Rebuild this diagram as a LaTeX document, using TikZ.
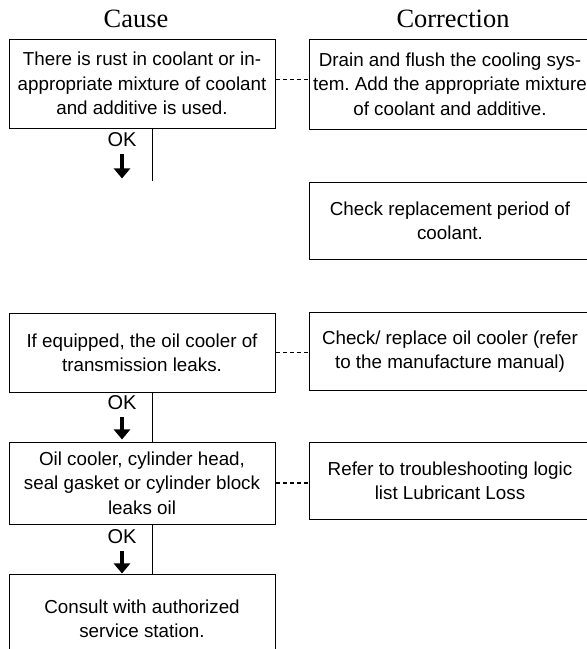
\documentclass[tikz,border=0pt]{standalone}
\usepackage{fontspec}
\setmainfont{Liberation Sans}
\newfontfamily\headfont{Liberation Serif}
\usetikzlibrary{arrows.meta}
\frenchspacing
\tikzset{
  causebox/.style={draw, line width=0.5pt, align=center, inner sep=0pt, minimum width=133pt, font=\fontsize{9.4}{12.2}\selectfont},
  fixbox/.style={causebox, minimum width=141pt},
  heading/.style={anchor=base, inner sep=0pt, font=\headfont\fontsize{13.2}{15}\selectfont},
  oklabel/.style={inner sep=0pt, font=\fontsize{10}{11}\selectfont},
  okarrow/.style={line width=1.6pt, -{Triangle[width=8pt,length=5pt]}},
  tieline/.style={line width=0.7pt, dash pattern=on 2pt off 1.5pt},
  flowline/.style={line width=0.5pt}
}
\begin{document}
\begin{tikzpicture}[x=0.5pt,y=-0.5pt]
\useasboundingbox (0,0) rectangle (587,649);
\node[heading] (hcause) at (136,27) {Cause};
\node[heading] (hfix) at (453,27) {Correction};
\node[causebox, minimum height=44.5pt] (c1) at (142,83.5) {There is rust in coolant or in-\\appropriate mixture of coolant\\and additive is used.};
\node[causebox, minimum height=39.5pt] (c3) at (142,352.5) {If equipped, the oil cooler of\\transmission leaks.};
\node[causebox, minimum height=41pt] (c4) at (142,483) {Oil cooler, cylinder head,\\seal gasket or cylinder block\\leaks oil};
\node[causebox, minimum height=45pt] (c5) at (142,619) {Consult with authorized\\service station.};
\node[fixbox, minimum height=45pt] (r1) at (450,84) {Drain and flush the cooling sys-\\tem. Add the appropriate mixture\\of coolant and additive.};
\node[fixbox, minimum height=38.5pt] (r2) at (450,220.5) {Check replacement period of\\coolant.};
\node[fixbox, minimum height=38.75pt] (r3) at (450,351.5) {Check/ replace oil cooler (refer\\to the manufacture manual)};
\node[fixbox, minimum height=38.5pt] (r4) at (450,480.5) {Refer to troubleshooting logic\\list Lubricant Loss};
\draw[tieline] ([yshift=2pt]c1.east) -- ([yshift=2pt]c1.east -| r1.west);
\draw[tieline] (c3.east) -- (c3.east -| r3.west);
\draw[tieline] (c4.east) -- (c4.east -| r4.west);
\coordinate (e1) at (152,181);
\draw[flowline] (c1.south -| e1) -- (e1);
\draw[flowline] (c3.south -| e1) -- (c4.north -| e1);
\draw[flowline] (c4.south -| e1) -- (c5.north -| e1);
\node[oklabel] (ok1) at (122,140) {OK};
\node[oklabel] (ok2) at (122,403) {OK};
\node[oklabel] (ok3) at (122,537) {OK};
\draw[okarrow] ([yshift=-3.5pt]ok1.south) -- ++(0,24);
\draw[okarrow] ([yshift=-3.5pt]ok2.south) -- ++(0,22);
\draw[okarrow] ([yshift=-3.5pt]ok3.south) -- ++(0,22);
\end{tikzpicture}
\end{document}
